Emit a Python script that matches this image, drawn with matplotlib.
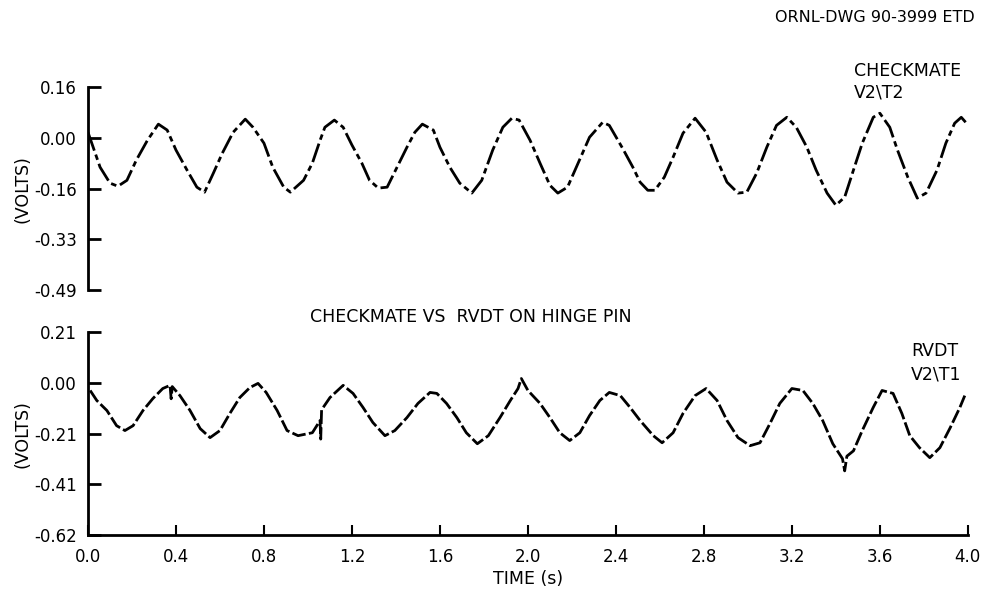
import matplotlib
matplotlib.use('Agg')
import matplotlib.pyplot as plt

# CHECKMATE V2\T2 trace (top)
top_t = [0.0, 0.055, 0.10, 0.136, 0.177, 0.22, 0.27, 0.32, 0.36, 0.40, 0.45, 0.495, 0.53, 0.57,
         0.61, 0.66, 0.715, 0.75, 0.80, 0.84, 0.89, 0.92, 0.98, 1.02, 1.055, 1.077, 1.12, 1.16,
         1.20, 1.245, 1.28, 1.32, 1.36, 1.405, 1.45, 1.486, 1.52, 1.57, 1.60, 1.645, 1.69, 1.745,
         1.79, 1.84, 1.886, 1.927, 1.96, 2.01, 2.055, 2.10, 2.136, 2.18, 2.22, 2.28, 2.34, 2.37,
         2.43, 2.477, 2.51, 2.545, 2.577, 2.62, 2.66, 2.705, 2.76, 2.81, 2.86, 2.905, 2.955, 2.995,
         3.04, 3.086, 3.13, 3.177, 3.22, 3.268, 3.31, 3.36, 3.40, 3.44, 3.48, 3.52, 3.57, 3.60,
         3.645, 3.68, 3.727, 3.77, 3.81, 3.86, 3.90, 3.94, 3.97, 3.99]
top_v = [0.018, -0.094, -0.145, -0.155, -0.136, -0.071, -0.008, 0.044, 0.025, -0.039, -0.103,
         -0.158, -0.174, -0.113, -0.050, 0.018, 0.060, 0.034, -0.017, -0.094, -0.158, -0.174,
         -0.136, -0.081, -0.008, 0.034, 0.057, 0.034, -0.023, -0.081, -0.136, -0.161, -0.158,
         -0.094, -0.030, 0.018, 0.044, 0.025, -0.030, -0.094, -0.145, -0.177, -0.136, -0.039,
         0.034, 0.063, 0.057, -0.008, -0.081, -0.152, -0.177, -0.158, -0.094, 0.002, 0.050,
         0.040, -0.033, -0.094, -0.142, -0.168, -0.168, -0.126, -0.062, 0.015, 0.063, 0.018,
         -0.071, -0.142, -0.177, -0.174, -0.113, -0.030, 0.040, 0.066, 0.034, -0.030, -0.103,
         -0.177, -0.216, -0.190, -0.103, -0.017, 0.066, 0.079, 0.034, -0.039, -0.126, -0.193,
         -0.177, -0.103, -0.017, 0.047, 0.066, 0.050]

# RVDT V2\T1 trace (bottom)
bot_t = [0.01, 0.04, 0.086, 0.13, 0.168, 0.205, 0.25, 0.295, 0.34, 0.373, 0.378, 0.383, 0.418,
         0.464, 0.51, 0.555, 0.60, 0.645, 0.69, 0.736, 0.773, 0.81, 0.86, 0.905, 0.955, 1.02,
         1.055, 1.058, 1.062, 1.10, 1.16, 1.205, 1.25, 1.295, 1.35, 1.395, 1.45, 1.50, 1.555,
         1.586, 1.63, 1.677, 1.72, 1.77, 1.82, 1.873, 1.92, 1.955, 1.97, 2.0, 2.055, 2.10, 2.145,
         2.19, 2.236, 2.28, 2.327, 2.37, 2.42, 2.464, 2.51, 2.57, 2.61, 2.66, 2.705, 2.76, 2.81,
         2.86, 2.905, 2.955, 3.01, 3.055, 3.10, 3.145, 3.20, 3.25, 3.295, 3.34, 3.386, 3.43, 3.44,
         3.45, 3.48, 3.52, 3.57, 3.61, 3.66, 3.70, 3.736, 3.78, 3.827, 3.873, 3.92, 3.964, 3.986]
bot_v = [-0.031, -0.072, -0.113, -0.175, -0.195, -0.175, -0.113, -0.064, -0.023, -0.010, -0.065,
         -0.015, -0.052, -0.113, -0.187, -0.224, -0.195, -0.125, -0.060, -0.019, -0.002, -0.039,
         -0.113, -0.195, -0.216, -0.204, -0.154, -0.230, -0.110, -0.060, -0.010, -0.043, -0.100,
         -0.162, -0.216, -0.195, -0.142, -0.084, -0.039, -0.043, -0.084, -0.142, -0.204, -0.249,
         -0.216, -0.142, -0.072, -0.023, 0.018, -0.031, -0.084, -0.142, -0.204, -0.236, -0.204,
         -0.134, -0.072, -0.039, -0.052, -0.100, -0.154, -0.216, -0.245, -0.204, -0.125, -0.052,
         -0.023, -0.072, -0.154, -0.224, -0.257, -0.245, -0.167, -0.084, -0.023, -0.031, -0.084,
         -0.154, -0.249, -0.310, -0.360, -0.300, -0.278, -0.195, -0.100, -0.031, -0.043, -0.125,
         -0.216, -0.265, -0.306, -0.265, -0.183, -0.100, -0.052]

x_ticks = [0.0, 0.4, 0.8, 1.2, 1.6, 2.0, 2.4, 2.8, 3.2, 3.6, 4.0]
x_labels = ['0.0', '0.4', '0.8', '1.2', '1.6', '2.0', '2.4', '2.8', '3.2', '3.6', '4.0']
top_ticks = [0.1625, 0.0, -0.1625, -0.325, -0.4875]
top_labels = ['0.16', '0.00', '-0.16', '-0.33', '-0.49']
bot_ticks = [0.2075, 0.0, -0.2075, -0.415, -0.6225]
bot_labels = ['0.21', '0.00', '-0.21', '-0.41', '-0.62']

plt.rcParams['font.family'] = ['DejaVu Sans']
fs = 12
lfs = 12.5

fig = plt.figure(figsize=(9.82, 5.93), dpi=100)
ax1 = fig.add_axes([0.0896, 0.511, 0.896, 0.342])
ax2 = fig.add_axes([0.0896, 0.0978, 0.896, 0.342])

ax1.plot(top_t, top_v, color='black', lw=2.0, ls=(0, (7, 1.5, 2, 1.5)))
ax2.plot(bot_t, bot_v, color='black', lw=2.0, ls=(0, (5, 1.2)))

for ax, ticks, labels in [(ax1, top_ticks, top_labels), (ax2, bot_ticks, bot_labels)]:
    ax.set_xlim(0, 4.0)
    ax.set_ylim(ticks[-1], ticks[0])
    ax.set_yticks(ticks)
    ax.set_yticklabels(labels)
    ax.tick_params(axis='y', direction='in', length=9, width=2, pad=8, labelsize=fs)
    ax.spines['top'].set_visible(False)
    ax.spines['right'].set_visible(False)
    ax.spines['left'].set_linewidth(2)
    ax.set_ylabel('(VOLTS)', fontsize=lfs, labelpad=2)
    ax.patch.set_alpha(0)

ax1.spines['bottom'].set_visible(False)
ax1.set_xticks([])

ax2.spines['bottom'].set_linewidth(2)
ax2.set_xticks(x_ticks)
ax2.set_xticklabels(x_labels)
ax2.tick_params(axis='x', direction='in', length=7, width=1.5, pad=9, labelsize=fs)
ax2.set_xlabel('TIME (s)', fontsize=lfs, labelpad=3)

fig.text(0.993, 0.97, 'ORNL-DWG 90-3999 ETD', ha='right', va='center', fontsize=11.5)
fig.text(0.870, 0.862, 'CHECKMATE\nV2\\T2', ha='left', va='center', fontsize=lfs, linespacing=1.3)
fig.text(0.316, 0.466, 'CHECKMATE VS  RVDT ON HINGE PIN', ha='left', va='center', fontsize=lfs)
fig.text(0.928, 0.388, 'RVDT\nV2\\T1', ha='left', va='center', fontsize=lfs, linespacing=1.35)

fig.savefig('out.png', dpi=100)
